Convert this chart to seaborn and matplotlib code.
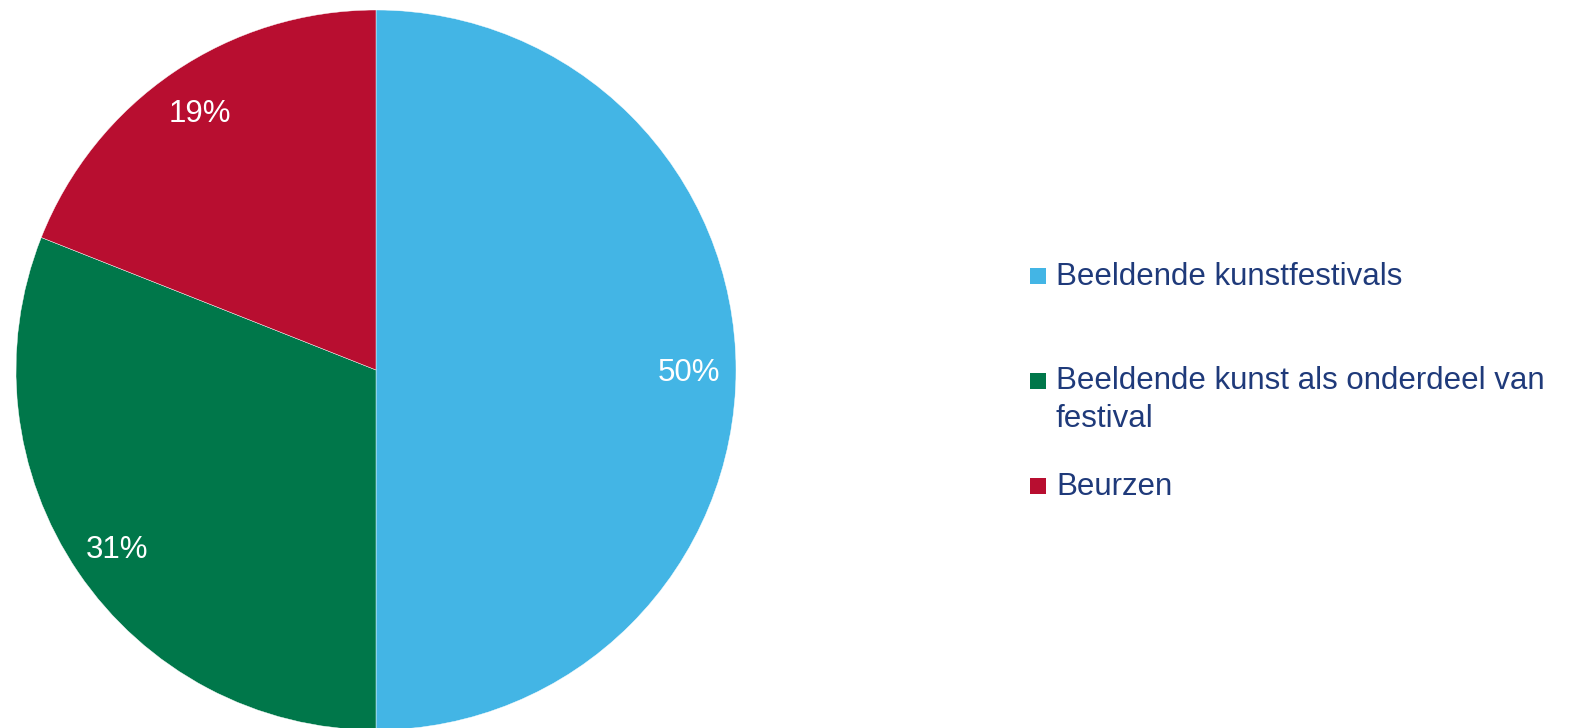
import matplotlib
matplotlib.use("Agg")
import matplotlib.pyplot as plt
import seaborn as sns
from matplotlib.patches import Rectangle

categories = ["Beeldende kunstfestivals", "Beeldende kunst als onderdeel van\nfestival", "Beurzen"]
values = [50, 31, 19]
colors = ["#43B5E5", "#00774A", "#B80E30"]
text_color = "#1F3A7A"

sns.set_theme(style="white")
plt.rcParams["font.family"] = ["Liberation Sans", "DejaVu Sans"]

W, H = 1569, 728
fig = plt.figure(figsize=(W / 100, H / 100), dpi=100)
fig.patch.set_facecolor("white")

ax = fig.add_axes([16 / W, -2 / H, 720 / W, 720 / H])
wedges, texts, autotexts = ax.pie(
    values, colors=colors, startangle=90, counterclock=False,
    autopct=lambda p: f"{p:.0f}%", pctdistance=0.87,
    wedgeprops=dict(linewidth=0.3, edgecolor="white"),
    textprops=dict(color="white", fontsize=22.5),
)
for t in autotexts:
    t.set_va("center_baseline")
ax.set_xlim(-1, 1)
ax.set_ylim(-1, 1)
ax.set_aspect("equal")
ax.axis("off")

def fx(px):
    return px / W

def fy(py):
    return 1 - py / H

# legend drawn manually to match spacing
label_lines = [c.split("\n") for c in categories]
rows = [
    (0, 268, [285]),
    (1, 373, [389, 427]),
    (2, 478, [495]),
]
for idx, top, bases in rows:
    fig.patches.append(Rectangle((fx(1030), fy(top + 16)), 16 / W, 16 / H,
                                 transform=fig.transFigure, facecolor=colors[idx],
                                 edgecolor="none"))
    for txt, base in zip(label_lines[idx], bases):
        fig.text(fx(1056), fy(base), txt, color=text_color, fontsize=22.5,
                 va="baseline", ha="left")

fig.savefig("out.png", dpi=100)
